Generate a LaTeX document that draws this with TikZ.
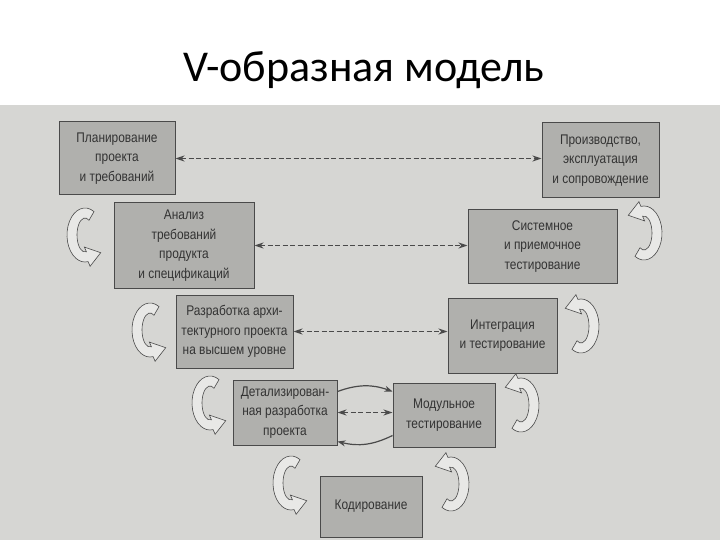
\documentclass[tikz,border=0pt]{standalone}
\usepackage{fontspec}
\setmainfont{Liberation Sans}
\newfontfamily\titlefont{Carlito}
\newfontfamily\boxfont[FakeStretch=0.85]{Liberation Sans}
\usetikzlibrary{arrows.meta}
\definecolor{scan}{HTML}{D6D6D3}
\definecolor{boxfill}{HTML}{B0B0AD}
\definecolor{ink}{HTML}{4A4A4A}
\definecolor{bandfill}{HTML}{E8E8E6}
\tikzset{
  stage/.style ={draw=ink, line width=1pt, fill=boxfill, align=center,
                 inner sep=2pt, text=black!80,
                 font=\boxfont\fontsize{14}{19.5}\selectfont},
  dlink/.style ={{Stealth[length=9pt,width=6pt]}-{Stealth[length=9pt,width=6pt]},
                 ink, line width=1.2pt, dash pattern=on 5pt off 2.5pt},
  curv/.style  ={-{Stealth[length=8pt,width=6pt]}, ink, line width=1.2pt},
  % hollow curved block arrow between neighbouring stages
  backarrow/.pic={
    \filldraw[fill=bandfill, draw=ink, line width=0.6pt]
      (60:18 and 27) arc[start angle=60, end angle=280, x radius=18, y radius=27]
      -- (5.1,-31.3) -- (15.7,-17.7) -- (-0.6,-12.1)
      -- (280:8 and 17) arc[start angle=280, end angle=60, x radius=8, y radius=17]
      -- cycle;
  },
}
\begin{document}
\begin{tikzpicture}[x=1pt, y=1pt]
    \useasboundingbox (0,0) rectangle (720,-540);
    \fill[scan] (0,-105) rectangle (720,-540);
    \node[font=\titlefont\fontsize{44}{48}\selectfont, anchor=base] (T) at (364,-82) {V-образная модель};

    \node[stage, minimum width=116pt, minimum height=73pt] (Pl) at (117,-158.5) {Планирование\\проекта\\и требований};
    \node[stage, minimum width=140pt, minimum height=85pt] (An) at (184,-245.5) {Анализ\\требований\\продукта\\и спецификаций};
    \node[stage, minimum width=117pt, minimum height=73pt] (Ar) at (234.5,-331.5) {Разработка архи-\\тектурного проекта\\на высшем уровне};
    \node[stage, minimum width=104pt, minimum height=65pt] (De) at (285,-412.5) {Детализирован-\\ная разработка\\проекта};
    \node[stage, minimum width=102pt, minimum height=61pt] (Ko) at (371,-506.5) {Кодирование};
    \node[stage, minimum width=102pt, minimum height=64pt] (Mo) at (444,-415) {Модульное\\тестирование};
    \node[stage, minimum width=109pt, minimum height=75pt] (In) at (502.5,-335.5) {Интеграция\\и тестирование};
    \node[stage, minimum width=149pt, minimum height=73pt] (Si) at (542.5,-246.5) {Системное\\и приемочное\\тестирование};
    \node[stage, minimum width=117pt, minimum height=75pt] (Pr) at (600.5,-160.5) {Производство,\\эксплуатация\\и сопровождение};

    \draw[dlink] (Pl.east) -- (Pl.east -| Pr.west);
    \draw[dlink] (An.east) -- (An.east -| Si.west);
    \draw[dlink] (Ar.east) -- (Ar.east -| In.west);
    \draw[dlink] (De.east) -- (De.east -| Mo.west);
    \draw[curv] ([yshift=-12pt]De.north east) to[bend left=20] ([yshift=-9pt]Mo.north west);
    \draw[curv] ([yshift=12pt]Mo.south west) to[bend left=20] ([yshift=4pt]De.south east);

    \foreach \p in {(85,-235),(150,-330),(210,-403),(291,-483)}
      \pic at \p {backarrow};
    \foreach \p in {(644,-233),(581,-326),(521,-405),(451,-484)}
      \pic[rotate=180] at \p {backarrow};
  \end{tikzpicture}
\end{document}
